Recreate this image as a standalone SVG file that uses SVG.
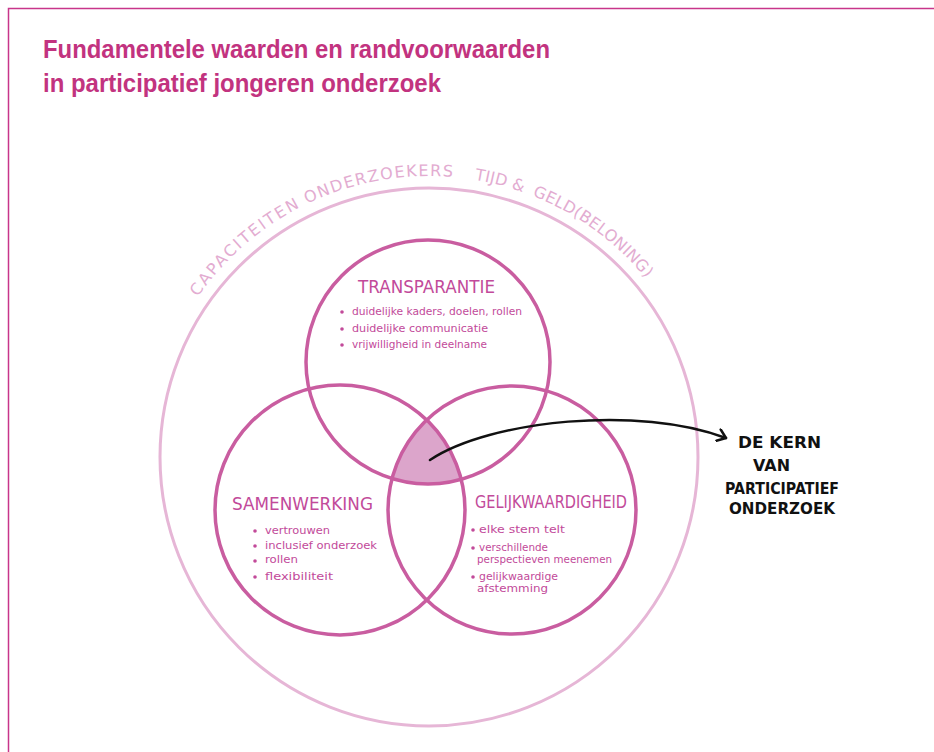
<svg xmlns="http://www.w3.org/2000/svg" width="934" height="752" viewBox="0 0 934 752">
  <style>
    .frame { stroke: #c8358a; stroke-width: 1.5; fill: none; }
    .title { font-family: "Liberation Sans", Arial, sans-serif; font-weight: bold; font-size: 25px; fill: #c2337f; }
    .ring { fill: none; stroke: #c95da0; stroke-width: 3.5; }
    .outer { fill: none; stroke: #e6b6d6; stroke-width: 3; }
    .arc { font-family: "DejaVu Sans", "Liberation Sans", sans-serif; font-size: 16px; fill: #e3acd1; }
    .head { font-family: "DejaVu Sans", "Liberation Sans", sans-serif; font-size: 17px; fill: #c24a9a; }
    .item { font-family: "DejaVu Sans", "Liberation Sans", sans-serif; font-size: 10.5px; fill: #c24a9a; }
    .dot { fill: #c24a9a; }
    .core { fill: #dca5cb; }
    .arrow { fill: none; stroke: #111111; stroke-width: 2.5; stroke-linecap: round; }
    .kern { font-family: "DejaVu Sans", "Liberation Sans", sans-serif; font-weight: bold; font-size: 15px; fill: #111111; }
  </style>
  <defs>
    <clipPath id="clipL"><circle cx="340" cy="510" r="125"/></clipPath>
    <clipPath id="clipR"><circle cx="512" cy="510" r="124"/></clipPath>
    <path id="arcPath" d="M 148,457 A 281,281 0 0 1 710,457"/>
    <marker id="chev" viewBox="0 0 12 14" refX="10" refY="7" markerWidth="12" markerHeight="14" markerUnits="userSpaceOnUse" orient="auto">
      <path d="M 2,1 L 10,7 L 2,13" fill="none" stroke="#111111" stroke-width="2.5" stroke-linecap="round" stroke-linejoin="round"/>
    </marker>
  </defs>

  <rect width="934" height="752" fill="#ffffff"/>
  <path class="frame" d="M 934,8.5 L 8.5,8.5 L 8.5,752"/>

  <g id="title">
    <text class="title" x="43" y="58" textLength="507" lengthAdjust="spacingAndGlyphs">Fundamentele waarden en randvoorwaarden</text>
    <text class="title" x="43" y="92" textLength="398" lengthAdjust="spacingAndGlyphs">in participatief jongeren onderzoek</text>
  </g>

  <g id="randvoorwaarden">
    <circle class="outer" cx="429" cy="457" r="269"/>
    <text class="arc"><textPath href="#arcPath" startOffset="170" textLength="137" lengthAdjust="spacing">CAPACITEITEN</textPath></text>
    <text class="arc"><textPath href="#arcPath" startOffset="315" textLength="150" lengthAdjust="spacing">ONDERZOEKERS</textPath></text>
    <text class="arc"><textPath href="#arcPath" startOffset="487" textLength="50" lengthAdjust="spacing">TIJD &amp;</textPath></text>
    <text class="arc"><textPath href="#arcPath" startOffset="547" textLength="142" lengthAdjust="spacing">GELD(BELONING)</textPath></text>
  </g>

  <g id="kern-fill">
    <g clip-path="url(#clipL)">
      <circle class="core" cx="428" cy="362" r="122" clip-path="url(#clipR)"/>
    </g>
  </g>

  <g id="transparantie">
    <circle class="ring" cx="428" cy="362" r="122"/>
    <text class="head" x="358" y="293" textLength="137" lengthAdjust="spacingAndGlyphs">TRANSPARANTIE</text>
    <circle class="dot" cx="342" cy="312" r="1.8"/>
    <text class="item" x="352" y="315" textLength="170" lengthAdjust="spacingAndGlyphs">duidelijke kaders, doelen, rollen</text>
    <circle class="dot" cx="342" cy="329" r="1.8"/>
    <text class="item" x="352" y="332" textLength="136" lengthAdjust="spacingAndGlyphs">duidelijke communicatie</text>
    <circle class="dot" cx="342" cy="345" r="1.8"/>
    <text class="item" x="352" y="348" textLength="135" lengthAdjust="spacingAndGlyphs">vrijwilligheid in deelname</text>
  </g>

  <g id="samenwerking">
    <circle class="ring" cx="340" cy="510" r="125"/>
    <text class="head" x="232" y="510" textLength="141" lengthAdjust="spacingAndGlyphs">SAMENWERKING</text>
    <circle class="dot" cx="255" cy="531" r="1.8"/>
    <text class="item" x="265" y="534" textLength="65" lengthAdjust="spacingAndGlyphs">vertrouwen</text>
    <circle class="dot" cx="255" cy="546" r="1.8"/>
    <text class="item" x="265" y="549" textLength="112" lengthAdjust="spacingAndGlyphs">inclusief onderzoek</text>
    <circle class="dot" cx="255" cy="561" r="1.8"/>
    <text class="item" x="265" y="563" textLength="33" lengthAdjust="spacingAndGlyphs">rollen</text>
    <circle class="dot" cx="255" cy="577" r="1.8"/>
    <text class="item" x="265" y="580" textLength="68" lengthAdjust="spacingAndGlyphs">flexibiliteit</text>
  </g>

  <g id="gelijkwaardigheid">
    <circle class="ring" cx="512" cy="510" r="124"/>
    <text class="head" x="475" y="508" textLength="152" lengthAdjust="spacingAndGlyphs">GELIJKWAARDIGHEID</text>
    <circle class="dot" cx="473" cy="530" r="1.8"/>
    <text class="item" x="479" y="533" textLength="86" lengthAdjust="spacingAndGlyphs">elke stem telt</text>
    <circle class="dot" cx="473" cy="548" r="1.8"/>
    <text class="item" x="479" y="551" textLength="69" lengthAdjust="spacingAndGlyphs">verschillende</text>
    <text class="item" x="477" y="563" textLength="135" lengthAdjust="spacingAndGlyphs">perspectieven meenemen</text>
    <circle class="dot" cx="473" cy="577" r="1.8"/>
    <text class="item" x="479" y="580" textLength="79" lengthAdjust="spacingAndGlyphs">gelijkwaardige</text>
    <text class="item" x="477" y="592" textLength="71" lengthAdjust="spacingAndGlyphs">afstemming</text>
  </g>

  <g id="connectors">
    <path class="arrow" d="M 430,460 C 490,420 640,405 726,438" marker-end="url(#chev)"/>
  </g>

  <g id="de-kern">
    <text class="kern" x="738" y="448" textLength="83" lengthAdjust="spacingAndGlyphs">DE KERN</text>
    <text class="kern" x="753" y="471" textLength="37" lengthAdjust="spacingAndGlyphs">VAN</text>
    <text class="kern" x="725" y="494" textLength="114" lengthAdjust="spacingAndGlyphs">PARTICIPATIEF</text>
    <text class="kern" x="729" y="514" textLength="106" lengthAdjust="spacingAndGlyphs">ONDERZOEK</text>
  </g>
</svg>
